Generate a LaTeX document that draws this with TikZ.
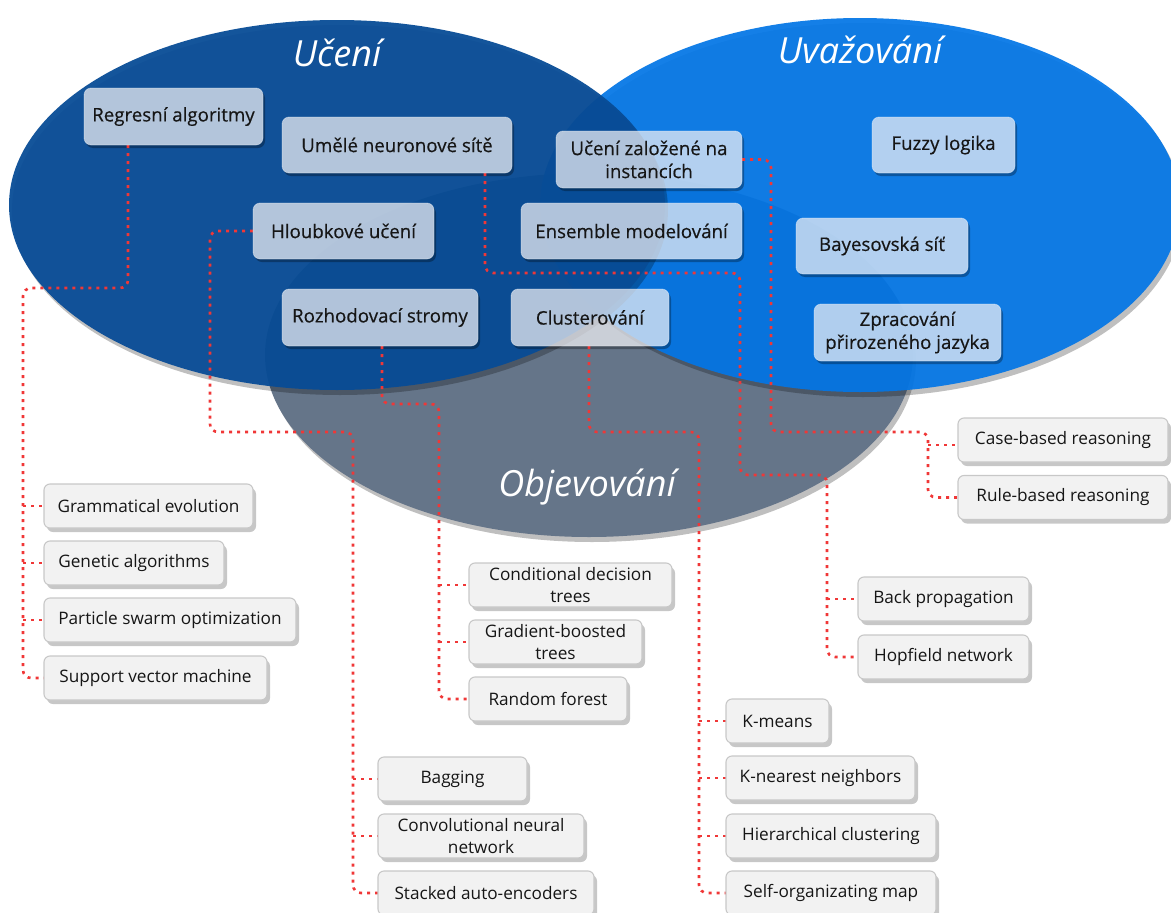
\documentclass[tikz,border=0pt]{standalone}
\usepackage{fontspec}
\setmainfont{Open Sans}
\newfontfamily\boxfont{Open Sans}[FakeBold=0.4]
\usetikzlibrary{shadows}

\definecolor{ucblue}{RGB}{8,76,150}
\definecolor{uvblue}{RGB}{3,118,230}
\definecolor{obgray}{RGB}{101,117,137}
\definecolor{boxfill}{RGB}{242,242,246}
\definecolor{leaffill}{RGB}{242,242,242}
\definecolor{leafline}{RGB}{200,200,200}
\definecolor{linkred}{RGB}{240,55,55}
\definecolor{txt}{RGB}{22,22,22}

\pgfdeclarelayer{bg}
\pgfdeclarelayer{shade}
\pgfdeclarelayer{links}
\pgfsetlayers{bg,shade,links,main}

\tikzset{
  catbox/.style={rounded corners=7pt, fill=boxfill, fill opacity=0.72,
    draw=white, draw opacity=0.35, line width=0.8pt, text opacity=1,
    text=txt, font=\boxfont\fontsize{18.7}{23}\selectfont, align=center,
    inner sep=0pt, outer sep=0pt},
  leaf/.style={rounded corners=6pt, fill=leaffill, draw=leafline,
    line width=1.1pt, text=txt, font=\fontsize{17.2}{22}\selectfont,
    align=center, inner sep=0pt, outer sep=0pt, minimum height=44pt,
    drop shadow={shadow xshift=3pt, shadow yshift=-4pt, fill=black, opacity=0.22}},
  link/.style={draw=linkred, line width=2.6pt, dash pattern=on 3pt off 5pt,
    rounded corners=8pt},
  title/.style={text=white, font=\itshape\fontsize{36}{40}\selectfont,
    anchor=base, inner sep=0pt},
  blob/.style={drop shadow={shadow xshift=3pt, shadow yshift=-5pt,
    fill=black, opacity=0.25}},
}

% shadow of a translucent box, kept outside the box itself
\newcommand\catshadow[1]{%
  \begin{scope}
    \clip (-100,-100) -- (-100,1100) -- (1300,1100) -- (1300,-100) -- cycle
      [rounded corners=7pt] (#1.north west) -- (#1.north east)
      -- (#1.south east) -- (#1.south west) -- cycle;
    \fill[black, opacity=0.3, rounded corners=7pt]
      ([shift={(2,3)}]#1.north west) rectangle ([shift={(2,3)}]#1.south east);
  \end{scope}}

\begin{document}
\begin{tikzpicture}[x=1pt,y=-1pt]
\useasboundingbox (0,0) rectangle (1171,913);

\begin{pgfonlayer}{bg}
  \fill[white] (0,0) rectangle (1171,913);
  \fill[obgray, blob] (589,355) ellipse [x radius=324, y radius=182];
  \fill[uvblue, fill opacity=0.93, blob] (860,205) ellipse [x radius=320, y radius=187];
  \fill[ucblue, fill opacity=0.95, blob] (337,205) ellipse [x radius=328, y radius=185];
\end{pgfonlayer}

% area titles
\node[title] (tU) at (337,66) {Učení};
\node[title] (tV) at (860,63) {Uvažování};
\node[title] (tO) at (587,496) {Objevování};

% category boxes
\node[catbox, minimum width=179pt, minimum height=57pt] (reg) at (173.5,116.5) {Regresní algoritmy};
\node[catbox, minimum width=230pt, minimum height=56pt] (un)  at (397,145) {Umělé neuronové sítě};
\node[catbox, minimum width=186pt, minimum height=57pt] (ui)  at (649,159.5) {Učení založené na\\instancích};
\node[catbox, minimum width=143pt, minimum height=56pt] (fz)  at (943.5,145) {Fuzzy logika};
\node[catbox, minimum width=181pt, minimum height=56pt] (hl)  at (343.5,231) {Hloubkové učení};
\node[catbox, minimum width=221pt, minimum height=56pt] (em)  at (631.5,231) {Ensemble modelování};
\node[catbox, minimum width=172pt, minimum height=56pt] (bs)  at (882,246) {Bayesovská síť};
\node[catbox, minimum width=196pt, minimum height=57pt] (rs)  at (380,317.5) {Rozhodovací stromy};
\node[catbox, minimum width=158pt, minimum height=57pt] (cl)  at (590,317.5) {Clusterování};
\node[catbox, minimum width=187pt, minimum height=57pt] (nlp) at (907.5,332.5) {Zpracování\\přirozeného jazyka};

% method boxes
\node[leaf, minimum width=209pt] (ge)  at (148.5,506) {Grammatical evolution};
\node[leaf, minimum width=180pt] (ga)  at (134,563) {Genetic algorithms};
\node[leaf, minimum width=252pt] (pso) at (170,620) {Particle swarm optimization};
\node[leaf, minimum width=223pt] (svm) at (155.5,678) {Support vector machine};

\node[leaf, minimum width=203pt] (cdt) at (570.5,585) {Conditional decision\\trees};
\node[leaf, minimum width=173pt] (gbt) at (555.5,642) {Gradient-boosted\\trees};
\node[leaf, minimum width=158pt] (rf)  at (548,699) {Random forest};

\node[leaf, minimum width=149pt] (bag) at (452.5,779) {Bagging};
\node[leaf, minimum width=206pt] (cnn) at (481,836) {Convolutional neural\\network};
\node[leaf, minimum width=216pt] (sae) at (486,893) {Stacked auto-encoders};

\node[leaf, minimum width=103pt] (km)  at (777.5,721) {K-means};
\node[leaf, minimum width=189pt] (knn) at (820.5,778) {K-nearest neighbors};
\node[leaf, minimum width=210pt] (hc)  at (831,836) {Hierarchical clustering};
\node[leaf, minimum width=210pt] (som) at (831,893) {Self-organizating map};

\node[leaf, minimum width=171pt] (bp)  at (943.5,599) {Back propagation};
\node[leaf, minimum width=171pt] (hop) at (943.5,657) {Hopfield network};

\node[leaf, minimum width=210pt] (cbr) at (1063,440) {Case-based reasoning};
\node[leaf, minimum width=210pt] (rbr) at (1063,497.5) {Rule-based reasoning};

\begin{pgfonlayer}{shade}
  \foreach \b in {reg,un,ui,fz,hl,em,bs,rs,cl,nlp} {\catshadow{\b}}
\end{pgfonlayer}

% bends of the connectors
\coordinate (regA) at (23,288);
\coordinate (hlA) at (210,432);
\coordinate (hlB) at (353,432);
\coordinate (rsA) at (439,404);
\coordinate (clA) at (699,432);
\coordinate (unA) at (740,273);
\coordinate (unB) at (827,475);
\coordinate (uiA) at (771,432);
\coordinate (uiB) at (928,432);
\coordinate (cbrIn) at ([yshift=-5pt]cbr.west);

\begin{pgfonlayer}{links}
  \draw[link] ([xshift=-45.5pt]reg.south) |- (regA) |- (svm.west);
  \foreach \n in {ge,ga,pso} \draw[link] (regA |- \n.west) -- (\n.west);

  \draw[link] (hl.west) -| (hlA) -- (hlB) |- (sae.west);
  \foreach \n in {bag,cnn} \draw[link] (hlB |- \n.west) -- (\n.west);

  \draw[link] ([xshift=2pt]rs.south) |- (rsA) |- (rf.west);
  \foreach \n in {cdt,gbt} \draw[link] (rsA |- \n.west) -- (\n.west);

  \draw[link] ([xshift=-1pt]cl.south) |- (clA) |- (som.west);
  \foreach \n in {km,knn,hc} \draw[link] (clA |- \n.west) -- (\n.west);

  \draw[link] ([xshift=88pt]un.south) |- (unA) |- (unB) |- (hop.west);
  \draw[link] (unB |- bp.west) -- (bp.west);

  \draw[link] (ui.east) -| (uiA) -- (uiB) |- (rbr.west);
  \draw[link] (uiB |- cbrIn) -- (cbrIn);
\end{pgfonlayer}
\end{tikzpicture}
\end{document}
